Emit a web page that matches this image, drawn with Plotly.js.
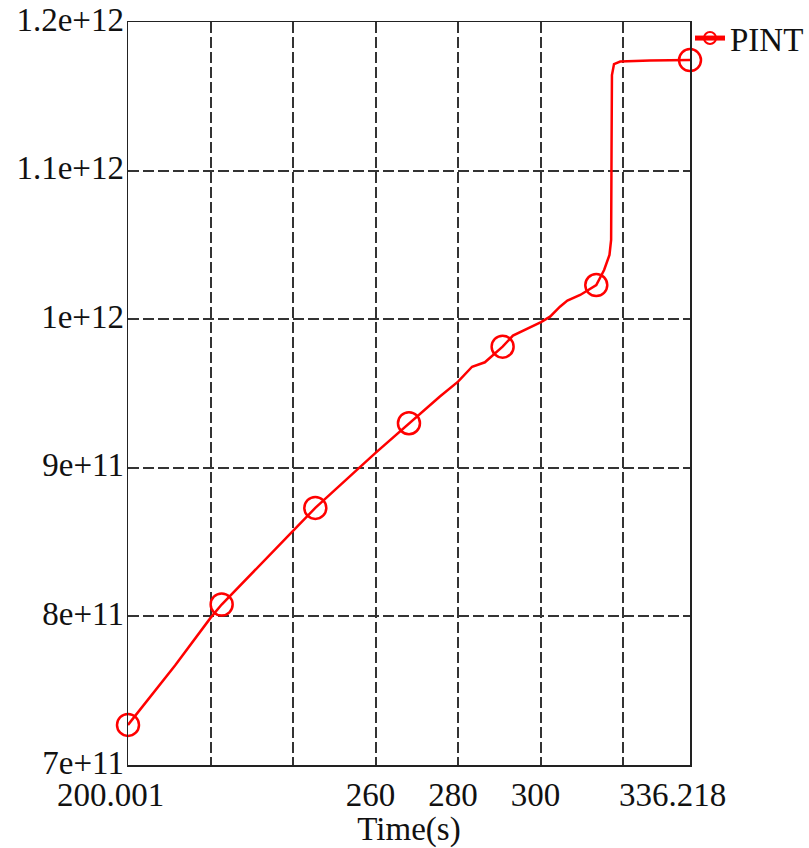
<!DOCTYPE html>
<html>
<head>
<meta charset="utf-8">
<script src="https://cdn.plot.ly/plotly-3.0.1.min.js"></script>
<style>
html,body{margin:0;padding:0;background:#ffffff;}
#chart{width:809px;height:848px;}
</style>
</head>
<body>
<div id="chart"></div>
<script>
// ---- data ----
const seriesName = 'PINT';
const time = [200.001, 211.4, 220.0, 222.7, 240.0, 245.4, 260.0, 268.1, 275.6, 280.0, 283.4, 286.5, 290.8, 293.3, 300.1, 302.3, 304.7, 306.5, 309.6, 313.5, 315.4, 316.7, 317.1, 317.2, 317.3, 317.8, 319.3, 326.5, 336.218];
const pint = [7.27e11, 7.67e11, 7.99e11, 8.08e11, 8.575e11, 8.73e11, 9.10e11, 9.30e11, 9.48e11, 9.58e11, 9.68e11, 9.71e11, 9.815e11, 9.89e11, 9.98e11, 1.0017e12, 1.0084e12, 1.0125e12, 1.0163e12, 1.023e12, 1.0331e12, 1.0432e12, 1.0533e12, 1.1139e12, 1.1643e12, 1.1717e12, 1.1734e12, 1.1741e12, 1.1744e12];
const markerTimes = [200.001, 222.7, 245.4, 268.1, 290.8, 313.5, 336.218];
const xTickVals = [200.001, 220, 240, 260, 280, 300, 320, 336.218];
const xTickText = ['200.001\u00a0\u00a0\u00a0', '', '', '260', '280', '300', '', '336.218\u00a0\u00a0\u00a0'];
const yTickVals = [7e11, 8e11, 9e11, 1e12, 1.1e12, 1.2e12];
const yTickText = ['7e+11', '8e+11', '9e+11', '1e+12', '1.1e+12', '1.2e+12'];
const xTitle = 'Time(s)';

// ---- styling ----
const RED = '#ff0000';
const FONT = "'Liberation Serif', 'Times New Roman', Times, serif";
const TXT = '#111111';
const FS = 33;
const markerSizes = time.map(t => markerTimes.includes(t) ? 22 : 0);

const trace = {
  x: time,
  y: pint,
  name: seriesName,
  type: 'scatter',
  mode: 'lines+markers',
  line: {color: RED, width: 2.5},
  marker: {symbol: 'circle-open', size: markerSizes, color: RED, opacity: 1, line: {color: RED, width: 2.5}},
  cliponaxis: false
};

const gridStyle = {gridcolor: '#333333', gridwidth: 2, griddash: '11px,4px'};

const layout = {
  width: 809,
  height: 848,
  margin: {l: 128, r: 119, t: 22, b: 83, pad: 0, autoexpand: false},
  paper_bgcolor: '#ffffff',
  plot_bgcolor: '#ffffff',
  font: {family: FONT, size: FS, color: TXT},
  showlegend: true,
  legend: {
    x: 1.0, xanchor: 'left', y: 1.016, yanchor: 'top',
    font: {family: FONT, size: FS, color: TXT},
    bgcolor: 'rgba(0,0,0,0)', borderwidth: 0, itemsizing: 'constant'
  },
  xaxis: Object.assign({
    range: [200.001, 336.218],
    tickmode: 'array',
    tickvals: xTickVals,
    ticktext: xTickText,
    ticks: '',
    showgrid: true,
    zeroline: false,
    showline: true, mirror: true, linecolor: '#222222', linewidth: 1.5,
    ticklabelshift: -5,
    tickfont: {family: FONT, size: FS, color: TXT},
    title: {text: xTitle, font: {family: FONT, size: FS, color: TXT}, standoff: 0}
  }, gridStyle),
  yaxis: Object.assign({
    range: [7e11, 1.2e12],
    tickmode: 'array',
    tickvals: yTickVals,
    ticktext: yTickText,
    ticks: '',
    showgrid: true,
    zeroline: false,
    showline: true, mirror: true, linecolor: '#222222', linewidth: 1.5,
    ticklabelshift: -3,
    ticklabelstandoff: -4,
    tickfont: {family: FONT, size: FS, color: TXT}
  }, gridStyle)
};

Plotly.newPlot('chart', [trace], layout, {displayModeBar: false, staticPlot: true});
</script>
</body>
</html>
